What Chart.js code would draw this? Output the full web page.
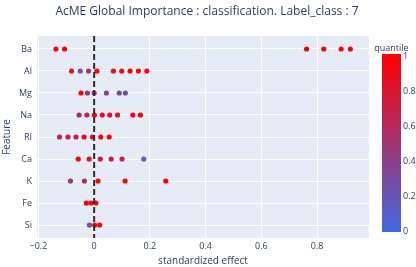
<!DOCTYPE html>
<html>
<head>
<meta charset="utf-8">
<script src="https://cdn.jsdelivr.net/npm/chart.js@4/dist/chart.umd.min.js"></script>
<style>
  html, body { margin: 0; padding: 0; background: #fff; }
  #wrap { width: 416px; height: 267px; position: relative; }
</style>
</head>
<body>
<div id="wrap"><canvas id="chart"></canvas></div>
<script>
const features = ['Ba', 'Al', 'Mg', 'Na', 'RI', 'Ca', 'K', 'Fe', 'Si'];

// standardized effect per feature (same order as features)
const effects = [
  [-0.137, -0.106, 0.762, 0.824, 0.886, 0.919],
  [-0.081, -0.050, -0.020, 0.010, 0.069, 0.099, 0.129, 0.159, 0.189],
  [-0.047, -0.024, 0.000, 0.044, 0.090, 0.112],
  [-0.054, -0.026, 0.001, 0.029, 0.056, 0.084, 0.139, 0.166],
  [-0.124, -0.094, -0.065, -0.036, -0.006, 0.024, 0.054],
  [-0.057, -0.018, 0.022, 0.061, 0.100, 0.178],
  [-0.085, -0.035, 0.014, 0.111, 0.257],
  [-0.028, -0.011, 0.006],
  [-0.017, 0.002, 0.020]
];

// quantile of each point (colour)
const quantiles = [
  [1.0, 1.0, 1.0, 1.0, 1.0, 1.0],
  [0.85, 0.25, 0.5, 0.95, 0.9, 0.95, 0.95, 0.95, 1.0],
  [1.0, 0.5, 0.5, 0.35, 0.3, 0.25],
  [0.6, 0.7, 0.95, 0.9, 0.85, 0.85, 1.0, 1.0],
  [0.65, 0.7, 0.7, 0.95, 0.95, 1.0, 1.0],
  [1.0, 0.85, 0.75, 0.7, 0.7, 0.05],
  [0.5, 0.6, 1.0, 1.0, 1.0],
  [1.0, 0.95, 1.0],
  [0.3, 1.0, 1.0]
];

const xTicks = [-0.2, 0, 0.2, 0.4, 0.6, 0.8];
const colorbarTicks = [0, 0.2, 0.4, 0.6, 0.8, 1];

const textColor = '#2a3f5f';
const fontFamily = '"Open Sans", "DejaVu Sans", sans-serif';

function quantileColor(q) {
  const lo = [65, 105, 225];
  const hi = [255, 0, 0];
  const c = lo.map((v, i) => Math.round(v + (hi[i] - v) * q));
  return `rgb(${c[0]}, ${c[1]}, ${c[2]})`;
}

const points = [];
const pointColors = [];
features.forEach((f, i) => {
  effects[i].forEach((e, j) => {
    points.push({ x: e, y: i });
    pointColors.push(quantileColor(quantiles[i][j]));
  });
});

const plotBackground = {
  id: 'plotBackground',
  beforeDraw(chart) {
    const { ctx, chartArea } = chart;
    ctx.save();
    ctx.fillStyle = '#e5ecf6';
    ctx.fillRect(chartArea.left, chartArea.top, chartArea.width, chartArea.height);
    ctx.restore();
  }
};

const titleAndColorbar = {
  id: 'titleAndColorbar',
  afterDraw(chart) {
    const ctx = chart.ctx;
    ctx.save();
    ctx.fillStyle = textColor;
    ctx.font = `12px ${fontFamily}`;
    ctx.textAlign = 'center';
    ctx.textBaseline = 'middle';
    ctx.fillText('AcME Global Importance : classification. Label_class : 7', 207, 12);

    const top = 54, bottom = 232, left = 382, right = 401;
    const grad = ctx.createLinearGradient(0, bottom, 0, top);
    grad.addColorStop(0, quantileColor(0));
    grad.addColorStop(1, quantileColor(1));
    ctx.fillStyle = grad;
    ctx.fillRect(left, top, right - left, bottom - top);

    ctx.fillStyle = textColor;
    ctx.font = `9px ${fontFamily}`;
    ctx.textAlign = 'center';
    ctx.fillText('quantile', (left + right) / 2, 48);
    ctx.textAlign = 'left';
    colorbarTicks.forEach(v => {
      const y = bottom - 1 - v * (bottom - top - 3);
      ctx.fillText(String(v), right + 2, y);
    });
    ctx.restore();
  }
};

new Chart(document.getElementById('chart'), {
  type: 'scatter',
  data: {
    datasets: [
      {
        type: 'line',
        data: [{ x: 0, y: -0.59 }, { x: 0, y: 8.59 }],
        borderColor: '#2f2f2f',
        borderWidth: 2,
        borderDash: [6, 3],
        pointRadius: 0,
        order: 0
      },
      {
        data: points,
        backgroundColor: pointColors,
        borderWidth: 0,
        pointRadius: 2.6,
        order: 1
      }
    ]
  },
  options: {
    responsive: true,
    maintainAspectRatio: false,
    animation: false,
    layout: { padding: { left: 0, right: 47, top: 36, bottom: 0 } },
    plugins: {
      legend: { display: false },
      tooltip: { enabled: false }
    },
    scales: {
      x: {
        type: 'linear',
        min: -0.205,
        max: 0.986,
        afterBuildTicks: scale => { scale.ticks = xTicks.map(v => ({ value: v })); },
        afterFit: scale => { scale.height = 29; },
        grid: { color: '#ffffff', lineWidth: 1, drawTicks: false },
        border: { display: false },
        ticks: {
          color: textColor,
          font: { family: fontFamily, size: 9 },
          padding: 3,
          callback: v => (v < 0 ? '\u2212' + Math.abs(v) : String(Math.round(v * 10) / 10))
        },
        title: {
          display: true,
          text: 'standardized effect',
          color: textColor,
          font: { family: fontFamily, size: 10 },
          padding: { top: 5, bottom: 0 }
        }
      },
      y: {
        type: 'linear',
        min: -0.59,
        max: 8.59,
        reverse: true,
        afterBuildTicks: scale => { scale.ticks = features.map((f, i) => ({ value: i })); },
        afterFit: scale => { scale.width = 37; },
        grid: { color: '#ffffff', lineWidth: 1, drawTicks: false },
        border: { display: false },
        ticks: {
          color: textColor,
          font: { family: fontFamily, size: 9 },
          padding: 5,
          callback: v => features[v]
        },
        title: {
          display: true,
          text: 'Feature',
          color: textColor,
          font: { family: fontFamily, size: 10 },
          padding: { top: 1, bottom: 0 }
        }
      }
    }
  },
  plugins: [plotBackground, titleAndColorbar]
});
</script>
</body>
</html>
